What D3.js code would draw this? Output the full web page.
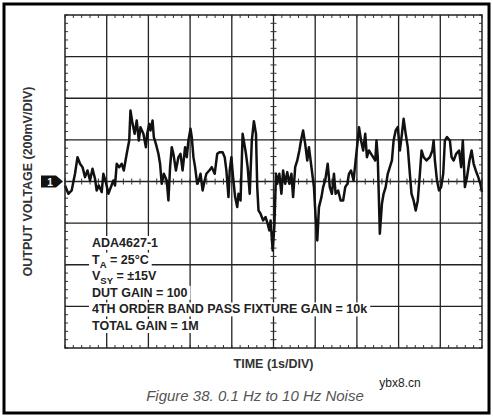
<!DOCTYPE html>
<html>
<head>
<meta charset="utf-8">
<script src="https://cdn.jsdelivr.net/npm/d3@7"></script>
<style>
  body { margin: 0; background: #fff; }
  text { font-family: "Liberation Sans", Arial, sans-serif; }
</style>
</head>
<body>
<svg id="scope" width="493" height="418"></svg>
<script>
// trace read from the scope shot: time in s (1 s/div), output in mV (200 mV/div)
var timeS = [0.00,0.08,0.16,0.24,0.30,0.36,0.42,0.48,0.54,0.60,0.66,0.72,0.76,0.81,0.88,0.92,0.98,1.04,1.10,1.16,1.20,1.24,1.30,1.36,1.41,1.48,1.54,1.57,1.62,1.67,1.72,1.77,1.81,1.88,1.94,1.97,2.02,2.05,2.10,2.13,2.18,2.24,2.28,2.32,2.37,2.44,2.48,2.52,2.56,2.60,2.66,2.72,2.77,2.82,2.88,2.92,2.96,3.01,3.04,3.08,3.12,3.17,3.21,3.25,3.30,3.35,3.39,3.46,3.52,3.59,3.65,3.71,3.78,3.83,3.87,3.92,3.95,3.99,4.03,4.08,4.13,4.16,4.21,4.26,4.30,4.34,4.38,4.43,4.48,4.53,4.58,4.61,4.64,4.69,4.75,4.81,4.86,4.90,4.93,4.98,5.02,5.06,5.09,5.14,5.19,5.23,5.28,5.33,5.38,5.43,5.47,5.52,5.57,5.62,5.66,5.71,5.76,5.81,5.85,5.91,5.97,6.01,6.05,6.09,6.15,6.19,6.24,6.30,6.35,6.40,6.45,6.49,6.55,6.61,6.67,6.72,6.77,6.81,6.86,6.92,6.97,7.02,7.05,7.10,7.15,7.20,7.24,7.29,7.34,7.39,7.44,7.47,7.50,7.55,7.60,7.64,7.69,7.74,7.79,7.84,7.88,7.93,7.98,8.03,8.08,8.12,8.17,8.22,8.27,8.31,8.36,8.41,8.46,8.51,8.55,8.60,8.67,8.75,8.81,8.84,8.87,8.92,8.97,9.02,9.07,9.11,9.16,9.23,9.27,9.32,9.38,9.45,9.50,9.54,9.59,9.64,9.70,9.75,9.80,9.85,9.91,9.96,10.00];
var outMV = [-19,-59,-43,37,117,85,69,21,53,5,61,13,-43,-19,-51,37,-3,-59,-27,5,-19,85,69,85,53,133,197,341,277,229,293,197,261,229,165,229,277,245,293,213,181,133,85,-11,37,5,-91,69,165,133,53,117,133,53,165,117,197,253,213,117,69,-11,5,37,-43,5,37,53,69,37,133,141,141,117,53,-75,53,117,21,-75,-123,-59,-91,229,181,133,69,-59,197,290,229,-27,-139,-155,-187,-171,-203,-235,-187,-331,-219,37,-11,37,-59,53,-11,45,-11,37,-75,69,101,149,197,245,181,101,165,69,-27,-171,-283,-123,-75,-27,5,85,-27,-59,37,-59,-43,-91,-91,-27,-11,37,53,5,101,197,261,197,149,229,117,149,133,117,101,197,117,-251,-107,-59,-27,37,69,101,197,245,261,149,229,301,229,165,37,-59,-91,-139,-91,37,149,117,101,117,149,197,101,5,-43,-27,37,197,213,197,117,101,133,149,69,197,-27,21,101,149,85,53,21,-11,-51];

var noteLines = ["ADA4627-1", "T|A| = 25°C", "V|SY| = ±15V", "DUT GAIN = 100",
  "4TH ORDER BAND PASS FIXTURE GAIN = 10k", "TOTAL GAIN = 1M"];

var svg = d3.select("#scope");
var x0 = 65, x1 = 482, y0 = 15, y1 = 348;

// outer frame
svg.append("rect").attr("x", 4).attr("y", 4).attr("width", 485).attr("height", 409)
  .attr("fill", "none").attr("stroke", "#000").attr("stroke-width", 3);

var scX = d3.scaleLinear().domain([0, 10]).range([x0, x1]);
var scY = d3.scaleLinear().domain([-800, 800]).range([y1, y0]);

var g = svg.append("g");
g.append("rect").attr("x", x0).attr("y", y0).attr("width", x1 - x0).attr("height", y1 - y0)
  .attr("fill", "#fff");

// grid
d3.range(1, 10).forEach(function(d) {
  g.append("line").attr("x1", scX(d)).attr("x2", scX(d)).attr("y1", y0).attr("y2", y1)
    .attr("stroke", "#222").attr("stroke-width", 1.3);
});
d3.range(-600, 800, 200).forEach(function(d) {
  g.append("line").attr("x1", x0).attr("x2", x1).attr("y1", scY(d)).attr("y2", scY(d))
    .attr("stroke", "#222").attr("stroke-width", 1.3);
});

// minor ticks: edges and center cross
var tx = d3.range(0, 10.01, 0.2), ty = d3.range(-800, 801, 40);
tx.forEach(function(d) {
  [[y0, 3], [y1, -3], [scY(0), 3], [scY(0), -3]].forEach(function(p) {
    g.append("line").attr("x1", scX(d)).attr("x2", scX(d)).attr("y1", p[0]).attr("y2", p[0] + p[1])
      .attr("stroke", "#333").attr("stroke-width", 1);
  });
});
ty.forEach(function(d) {
  [[x0, 3], [x1, -3], [scX(5), 3], [scX(5), -3]].forEach(function(p) {
    g.append("line").attr("y1", scY(d)).attr("y2", scY(d)).attr("x1", p[0]).attr("x2", p[0] + p[1])
      .attr("stroke", "#333").attr("stroke-width", 1);
  });
});

// annotation block with white knock-out
var note = g.append("g");
noteLines.forEach(function(s, i) {
  var yy = 247 + i * 16.6;
  var parts = s.split("|");
  var t = note.append("text").attr("x", 92).attr("y", yy)
    .attr("font-size", 12.5).attr("font-weight", "bold").attr("fill", "#222");
  t.append("tspan").text(parts[0]);
  if (parts.length > 1) {
    t.append("tspan").attr("dy", 4).attr("font-size", 9.5).text(parts[1]);
    t.append("tspan").attr("dy", -4).text(parts[2]);
  }
});
note.selectAll("text").each(function() {
  var b = this.getBBox();
  note.insert("rect", "text").attr("x", b.x - 3).attr("y", b.y).attr("width", b.width + 6)
    .attr("height", b.height).attr("fill", "#fff");
});

// trace
var lnMkr = d3.line().x(function(d, i) { return scX(timeS[i]); })
  .y(function(d) { return scY(d); });
g.append("path").attr("d", lnMkr(outMV)).attr("fill", "none")
  .attr("stroke", "#111").attr("stroke-width", 2.5).attr("stroke-linejoin", "round");

g.append("rect").attr("x", x0).attr("y", y0).attr("width", x1 - x0).attr("height", y1 - y0)
  .attr("fill", "none").attr("stroke", "#222").attr("stroke-width", 1.5);

// channel marker
var my = scY(0);
svg.append("path").attr("d", "M41," + (my - 6) + "H56L63," + my + "L56," + (my + 6) + "H41Z")
  .attr("fill", "#111");
svg.append("text").attr("x", 50).attr("y", my + 4).attr("text-anchor", "middle")
  .attr("font-size", 10).attr("font-weight", "bold").attr("fill", "#fff").text("1");

// labels
svg.append("text").attr("transform", "translate(32," + my + ") rotate(-90)")
  .attr("text-anchor", "middle").attr("font-size", 12.5).attr("font-weight", "bold")
  .attr("fill", "#333").text("OUTPUT VOLTAGE (200mV/DIV)");
svg.append("text").attr("x", scX(5)).attr("y", 368).attr("text-anchor", "middle")
  .attr("font-size", 12.5).attr("font-weight", "bold").attr("fill", "#333").text("TIME (1s/DIV)");
svg.append("text").attr("x", 255).attr("y", 401).attr("text-anchor", "middle")
  .attr("font-size", 15).attr("font-style", "italic").attr("fill", "#555")
  .text("Figure 38. 0.1 Hz to 10 Hz Noise");
svg.append("text").attr("x", 400).attr("y", 387).attr("text-anchor", "middle")
  .attr("font-size", 12).attr("fill", "#222").text("ybx8.cn");
</script>
</body>
</html>
